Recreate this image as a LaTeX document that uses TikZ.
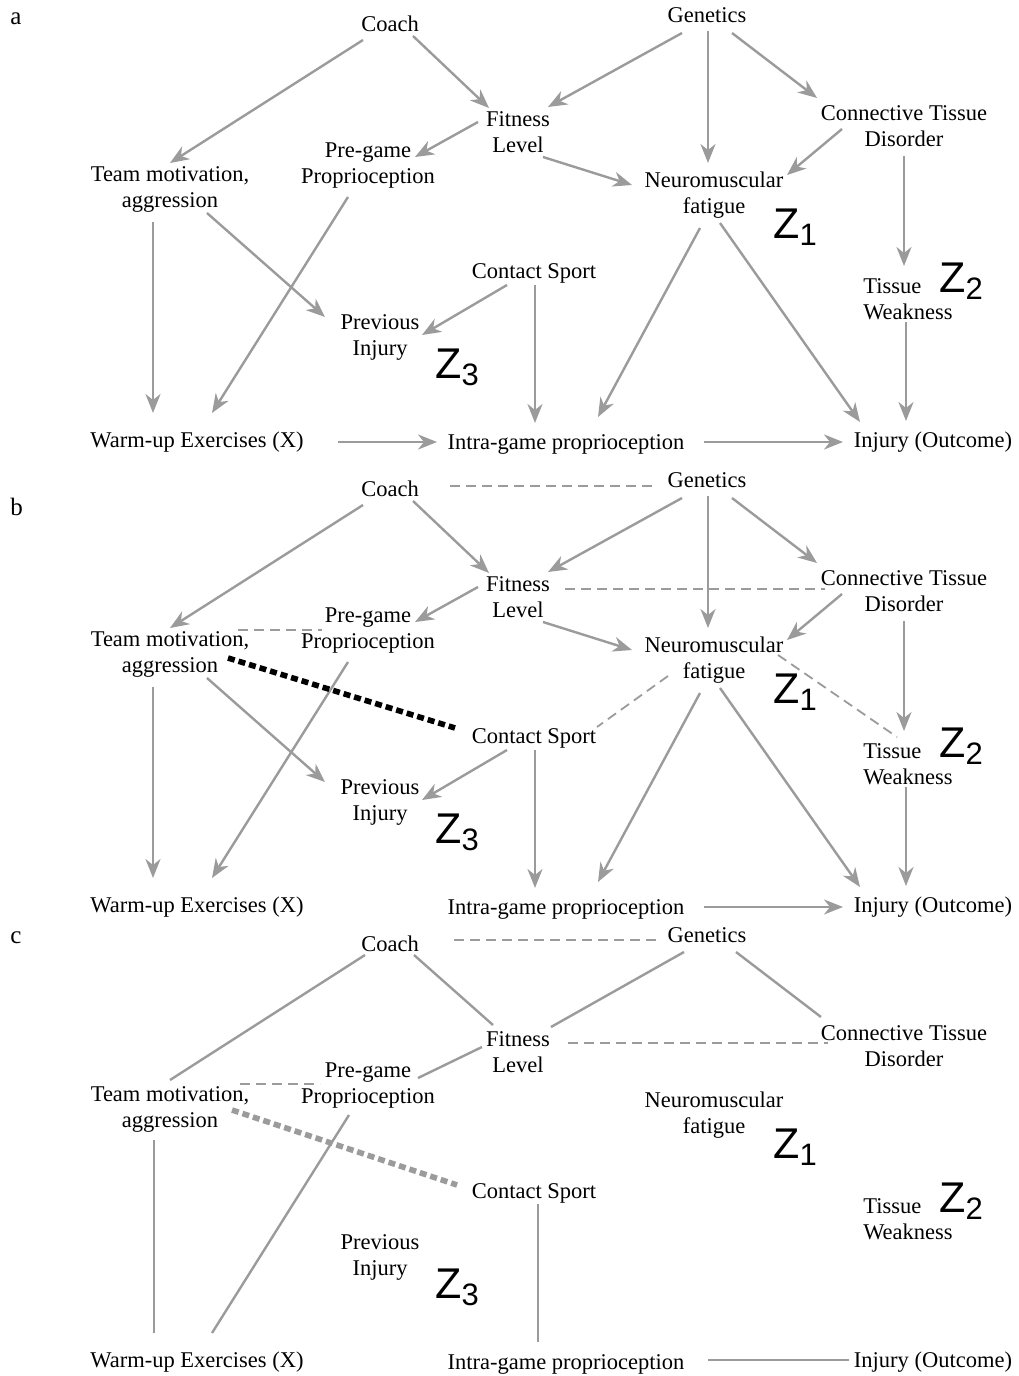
\documentclass[tikz,border=0pt]{standalone}
\usepackage{fontspec}
\setmainfont{Liberation Serif}
\newfontfamily\zfont{Liberation Sans}
\usetikzlibrary{calc,arrows.meta}

\definecolor{edgegray}{RGB}{155,155,155}
\tikzset{
  var/.style={inner sep=0pt, align=center, font=\fontsize{11.25}{13}\selectfont},
  arr/.style={draw=edgegray, line width=1.2pt, -{Stealth[length=9.5pt,width=7.5pt,inset=3pt]}},
  lnk/.style={draw=edgegray, line width=1.2pt},
  assoc/.style={draw=edgegray, line width=0.9pt, dash pattern=on 5pt off 3pt},
  conf/.style={line width=2.8pt, dash pattern=on 3.5pt off 2pt},
  zlab/.style={inner sep=0pt, anchor=base west, font=\zfont\fontsize{21.5}{22}\selectfont},
  panel/.style={inner sep=0pt, anchor=base west, font=\fontsize{12.5}{14}\selectfont},
}
\newcommand{\zsub}[1]{Z\raisebox{-3.5pt}{\fontsize{15.5}{16}\selectfont #1}}

% one copy of the variables, prefix #1, shifted down by #2 px
\newcommand{\dagnodes}[2]{%
  \begin{scope}[shift={(0,#2)}]
    \node[var] (#1coach) at (390,24) {Coach};
    \node[var] (#1gen) at (707,15) {Genetics};
    \node[var] (#1fit) at (518,132) {Fitness\\Level};
    \node[var] (#1ctd) at (904,126) {Connective Tissue\\Disorder};
    \node[var] (#1pre) at (368,166) {Pre-game\\Proprioception};
    \node[var] (#1team) at (170,189) {Team motivation,\\aggression};
    \node[var] (#1neuro) at (714,195) {Neuromuscular\\fatigue};
    \node[var] (#1contact) at (534,273) {Contact Sport};
    \node[var, align=left] (#1tissue) at (908,299) {Tissue\\Weakness};
    \node[var] (#1prev) at (380,337) {Previous\\Injury};
    \node[var] (#1warm) at (197,442) {Warm-up Exercises (X)};
    \node[var] (#1intra) at (566,444) {Intra-game proprioception};
    \node[var] (#1inj) at (933,442) {Injury (Outcome)};
    \node[zlab] (#1z1) at (773,238) {\zsub{1}};
    \node[zlab] (#1z2) at (939,292) {\zsub{2}};
    \node[zlab] (#1z3) at (435,378) {\zsub{3}};
  \end{scope}}

\begin{document}
\begin{tikzpicture}[x=0.5pt, y=-0.5pt]
  \useasboundingbox (0,0) rectangle (1018,1376);

  \node[panel] (la) at (10,25) {a};
  \node[panel] (lb) at (10,515) {b};
  \node[panel] (lc) at (10,943) {c};

  \dagnodes{a}{0}
  \dagnodes{b}{465}
  \dagnodes{c}{920}

  % directed edges shared by a and b
  \def\arrowsab{coach/-27/16/team/0/-26, coach/23/12/fit/-29/-24,
    fit/-40/-10/pre/47/-9, gen/-25/18/fit/30/-25, gen/1/16/neuro/-6/-32,
    gen/25/18/ctd/-87/-28, ctd/-62/3/neuro/73/-20, fit/25/25/neuro/-82/-10,
    ctd/0/30/tissue/-4/-33, team/-17/33/warm/-44/-29, team/37/24/prev/-55/-20,
    pre/-20/31/warm/15/-29, contact/-27/12/prev/42/-2, contact/1/12/intra/-31/-21,
    neuro/-14/33/intra/32/-27, neuro/6/28/inj/-73/-20, tissue/-2/23/inj/-27/-21,
    intra/138/-2/inj/-90/0}
  \foreach \p in {a,b}{
    \foreach \s/\sx/\sy/\t/\tx/\ty in \arrowsab
      \draw[arr] ($(\p\s)+(\sx,\sy)$) -- ($(\p\t)+(\tx,\ty)$);
  }
  \draw[arr] ($(awarm)+(141,0)$) -- ($(aintra)+(-129,-2)$);

  % panel b: dashed associations and the confounding path
  \foreach \s/\sx/\sy/\t/\tx/\ty in {coach/60/-3/gen/-54/6, fit/47/-8/ctd/-79/-2,
    team/68/-24/pre/-46/-1, neuro/-46/16/contact/63/-11, neuro/64/-5/tissue/-11/-27}
    \draw[assoc] ($(b\s)+(\sx,\sy)$) -- ($(b\t)+(\tx,\ty)$);
  \draw[conf] ($(bteam)+(58,4)$) -- ($(bcontact)+(-79,-10)$);

  % panel c: undirected skeleton
  \foreach \s/\sx/\sy/\t/\tx/\ty in {coach/-25/11/team/0/-29, coach/24/11/fit/-25/-27,
    gen/-23/17/fit/33/-25, gen/29/17/ctd/-83/-29, fit/-36/-5/pre/50/-8,
    team/-16/31/warm/-43/-29, pre/-19/29/warm/15/-29, contact/4/11/intra/-28/-22,
    intra/142/-4/inj/-84/-2}
    \draw[lnk] ($(c\s)+(\sx,\sy)$) -- ($(c\t)+(\tx,\ty)$);
  \foreach \s/\sx/\sy/\t/\tx/\ty in {coach/64/-4/gen/-51/5, fit/50/-9/ctd/-76/-3,
    team/70/-25/pre/-48/-2}
    \draw[assoc] ($(c\s)+(\sx,\sy)$) -- ($(c\t)+(\tx,\ty)$);
  \draw[conf, draw=edgegray] ($(cteam)+(62,1)$) -- ($(ccontact)+(-77,-8)$);
\end{tikzpicture}
\end{document}
